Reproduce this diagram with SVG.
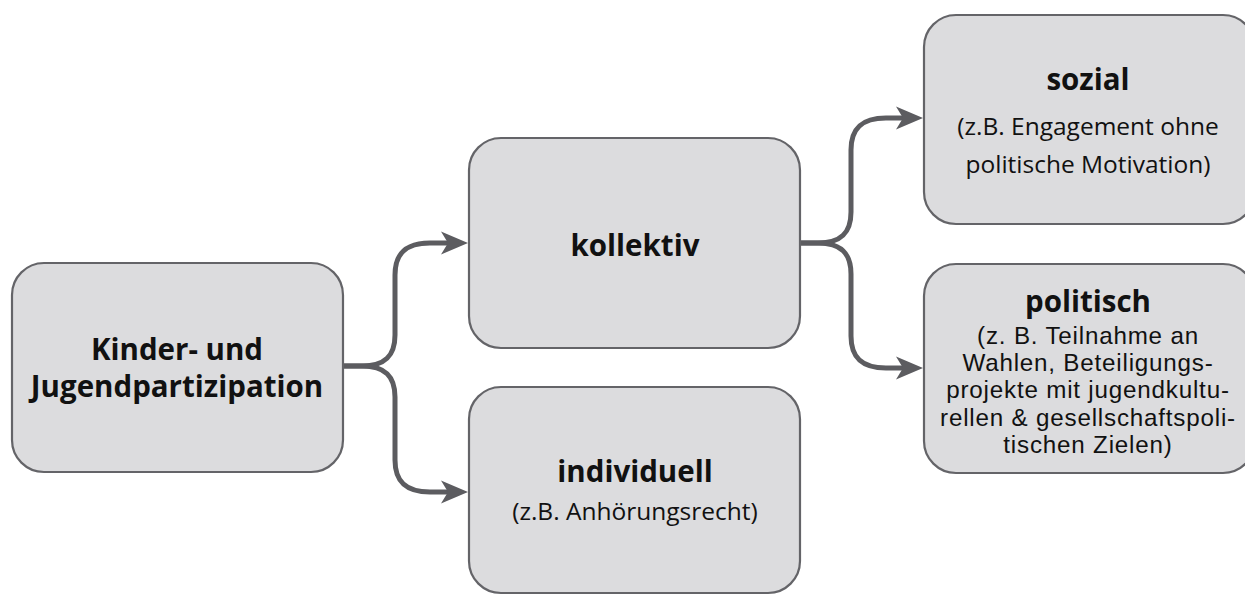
<svg xmlns="http://www.w3.org/2000/svg" width="1245" height="595" viewBox="0 0 1245 595">
<style>
.box{fill:#dcdcde;stroke:#646468;stroke-width:2.2}
.t{font-family:"Open Sans","Noto Sans","Liberation Sans",sans-serif;font-weight:700;font-size:29.5px;fill:#111;text-anchor:middle}
.s{font-family:"Open Sans","Noto Sans","Liberation Sans",sans-serif;font-weight:400;font-size:24.5px;fill:#111;text-anchor:middle}
.p{font-family:"Liberation Sans",Arial,sans-serif;font-size:24.2px;letter-spacing:0.8px}
.c{fill:none;stroke:#5c5c60;stroke-width:5;stroke-linecap:butt}
</style>
<defs>
<marker id="ah" markerUnits="userSpaceOnUse" markerWidth="30" markerHeight="26" refX="14" refY="13" orient="auto">
<path d="M0,1.5 L27,13 L0,24.5 L7,13 Z" fill="#5c5c60"/>
</marker>
</defs>
<g id="connectors">
<path class="c" d="M343,366 H362 C385,366 395,356 395,335 V275 C395,254 405,243 430,243 H455" marker-end="url(#ah)"/>
<path class="c" d="M343,366 H362 C385,366 395,376 395,397 V460 C395,481 405,492 430,492 H455" marker-end="url(#ah)"/>
<path class="c" d="M799,243 H818 C841,243 851,233 851,212 V150 C851,129 861,118 886,118 H910" marker-end="url(#ah)"/>
<path class="c" d="M799,243 H818 C841,243 851,253 851,274 V336 C851,357 861,368 886,368 H910" marker-end="url(#ah)"/>
</g>
<g id="node-root">
<rect class="box" x="12" y="263" width="331" height="209" rx="32"/>
<text class="t" x="177" y="360">Kinder- und<tspan x="177" dy="37">Jugendpartizipation</tspan></text>
</g>
<g id="node-kollektiv">
<rect class="box" x="469" y="138" width="331" height="210" rx="32"/>
<text class="t" x="635" y="256">kollektiv</text>
</g>
<g id="node-individuell">
<rect class="box" x="469" y="387" width="331" height="206" rx="32"/>
<text class="t" x="635" y="482">individuell</text>
<text class="s" x="635" y="520">(z.B. Anhörungsrecht)</text>
</g>
<g id="node-sozial">
<rect class="box" x="924" y="15" width="331" height="209" rx="32"/>
<text class="t" x="1088" y="90">sozial</text>
<text class="s" x="1088" y="135">(z.B. Engagement ohne<tspan x="1088" dy="38">politische Motivation)</tspan></text>
</g>
<g id="node-politisch">
<rect class="box" x="924" y="264" width="331" height="209" rx="32"/>
<text class="t" x="1088" y="312">politisch</text>
<text class="s p" x="1088" y="344">(z. B. Teilnahme an<tspan x="1088" dy="27.2">Wahlen, Beteiligungs-</tspan><tspan x="1088" dy="27.2">projekte mit jugendkultu-</tspan><tspan x="1088" dy="27.2">rellen &amp; gesellschaftspoli-</tspan><tspan x="1088" dy="27.2">tischen Zielen)</tspan></text>
</g>
</svg>
